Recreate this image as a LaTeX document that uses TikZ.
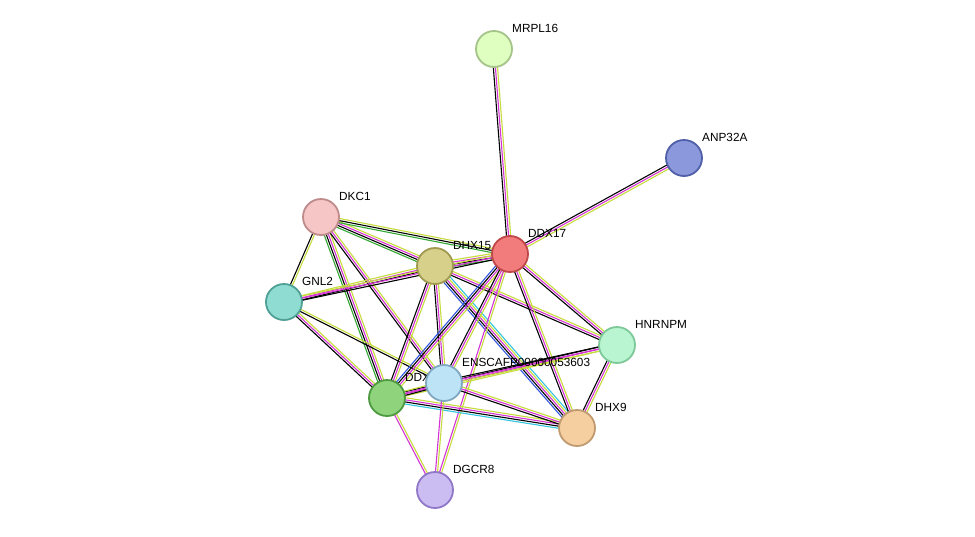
\documentclass[tikz,border=0pt]{standalone}
\usepackage{fontspec}
\setmainfont{Liberation Sans}
\usetikzlibrary{calc,backgrounds}

\definecolor{tmine}{HTML}{C6DC3C}
\definecolor{expmt}{HTML}{D633D6}
\definecolor{dbase}{HTML}{33C6E0}
\definecolor{neigh}{HTML}{33A833}
\definecolor{occur}{HTML}{3355E0}

\tikzset{
  prot/.style={circle, minimum size=36pt, line width=1.8pt, inner sep=0pt},
  plabel/.style={font=\fontsize{11.8}{13}\selectfont, anchor=west, inner sep=0pt},
}

% parallel evidence lines between two proteins
\newcommand\lnk[4]{%
  \foreach \c [count=\i] in {#4} {%
    \pgfmathsetmacro\off{(\i-(#3+1)/2)*2.1}%
    \draw[\c, line width=1.1pt] ($(#1.center)!\off pt!90:(#2.center)$) -- ($(#2.center)!\off pt!-90:(#1.center)$);
  }}

\begin{document}
\begin{tikzpicture}[x=1pt,y=-1pt]
\useasboundingbox (0,0) rectangle (975,536);

\node[prot, fill={rgb,255:red,223;green,255;blue,192}, draw={rgb,255:red,165;green,196;blue,138}] (mrpl16) at (494,49) {};
\node[plabel] (mrpl16t) at (512,28) {MRPL16};
\node[prot, fill={rgb,255:red,140;green,152;blue,220}, draw={rgb,255:red,80;green,96;blue,168}] (anp32a) at (684,158) {};
\node[plabel] (anp32at) at (702,137) {ANP32A};
\node[prot, fill={rgb,255:red,246;green,197;blue,197}, draw={rgb,255:red,192;green,139;blue,139}] (dkc1) at (321,217) {};
\node[plabel] (dkc1t) at (339,196) {DKC1};
\node[prot, fill={rgb,255:red,143;green,220;blue,210}, draw={rgb,255:red,79;green,160;blue,150}] (gnl2) at (284,302) {};
\node[plabel] (gnl2t) at (302,281) {GNL2};
\node[prot, fill={rgb,255:red,214;green,208;blue,138}, draw={rgb,255:red,160;green,154;blue,80}] (dhx15) at (435,266) {};
\node[plabel] (dhx15t) at (453,245) {DHX15};
\node[prot, fill={rgb,255:red,242;green,123;blue,123}, draw={rgb,255:red,192;green,72;blue,72}] (ddx17) at (510,254) {};
\node[plabel] (ddx17t) at (528,233) {DDX17};
\node[prot, fill={rgb,255:red,184;green,245;blue,208}, draw={rgb,255:red,126;green,200;blue,154}] (hnrnpm) at (617,345) {};
\node[plabel] (hnrnpmt) at (635,324) {HNRNPM};
\node[prot, fill={rgb,255:red,143;green,212;blue,124}, draw={rgb,255:red,78;green,154;blue,64}] (ddx5) at (387,398) {};
\node[plabel] (ddx5t) at (405,377) {DDX5};
\node[prot, fill={rgb,255:red,189;green,227;blue,247}, draw={rgb,255:red,128;green,168;blue,192}] (enscafp) at (444,383) {};
\node[plabel] (enscafpt) at (462,362) {ENSCAFP00000053603};
\node[prot, fill={rgb,255:red,246;green,207;blue,160}, draw={rgb,255:red,192;green,154;blue,112}] (dhx9) at (577,428) {};
\node[plabel] (dhx9t) at (595,407) {DHX9};
\node[prot, fill={rgb,255:red,203;green,188;blue,242}, draw={rgb,255:red,144;green,120;blue,200}] (dgcr8) at (435,490) {};
\node[plabel] (dgcr8t) at (453,469) {DGCR8};

\begin{scope}[on background layer]
\fill[white] (0,0) rectangle (975,536);
\lnk{mrpl16}{ddx17}{3}{black,expmt,tmine}
\lnk{anp32a}{ddx17}{3}{black,expmt,tmine}
\lnk{dkc1}{dhx15}{4}{neigh,black,expmt,tmine}
\lnk{dkc1}{ddx17}{3}{neigh,black,tmine}
\lnk{dkc1}{gnl2}{2}{black,tmine}
\lnk{dkc1}{ddx5}{4}{neigh,black,expmt,tmine}
\lnk{dkc1}{enscafp}{3}{black,expmt,tmine}
\lnk{dhx15}{ddx17}{4}{neigh,black,expmt,tmine}
\lnk{gnl2}{dhx15}{3}{black,expmt,tmine}
\lnk{gnl2}{ddx17}{3}{black,expmt,tmine}
\lnk{gnl2}{ddx5}{3}{black,expmt,tmine}
\lnk{gnl2}{enscafp}{2}{black,tmine}
\lnk{dhx15}{ddx5}{3}{black,expmt,tmine}
\lnk{dhx15}{enscafp}{3}{black,expmt,tmine}
\lnk{dhx15}{dhx9}{5}{occur,black,expmt,tmine,dbase}
\lnk{dhx15}{hnrnpm}{3}{black,expmt,tmine}
\lnk{ddx17}{ddx5}{4}{occur,black,expmt,tmine}
\lnk{ddx17}{enscafp}{3}{black,expmt,tmine}
\lnk{ddx17}{hnrnpm}{3}{black,expmt,tmine}
\lnk{ddx17}{dhx9}{3}{black,expmt,tmine}
\lnk{ddx17}{dgcr8}{2}{expmt,tmine}
\lnk{hnrnpm}{ddx5}{3}{black,expmt,tmine}
\lnk{hnrnpm}{enscafp}{3}{black,expmt,tmine}
\lnk{hnrnpm}{dhx9}{3}{black,expmt,tmine}
\lnk{ddx5}{enscafp}{3}{black,expmt,tmine}
\lnk{ddx5}{dhx9}{4}{dbase,black,expmt,tmine}
\lnk{enscafp}{dhx9}{3}{black,expmt,tmine}
\lnk{ddx5}{dgcr8}{2}{expmt,tmine}
\lnk{enscafp}{dgcr8}{2}{expmt,tmine}
\end{scope}
\end{tikzpicture}
\end{document}
